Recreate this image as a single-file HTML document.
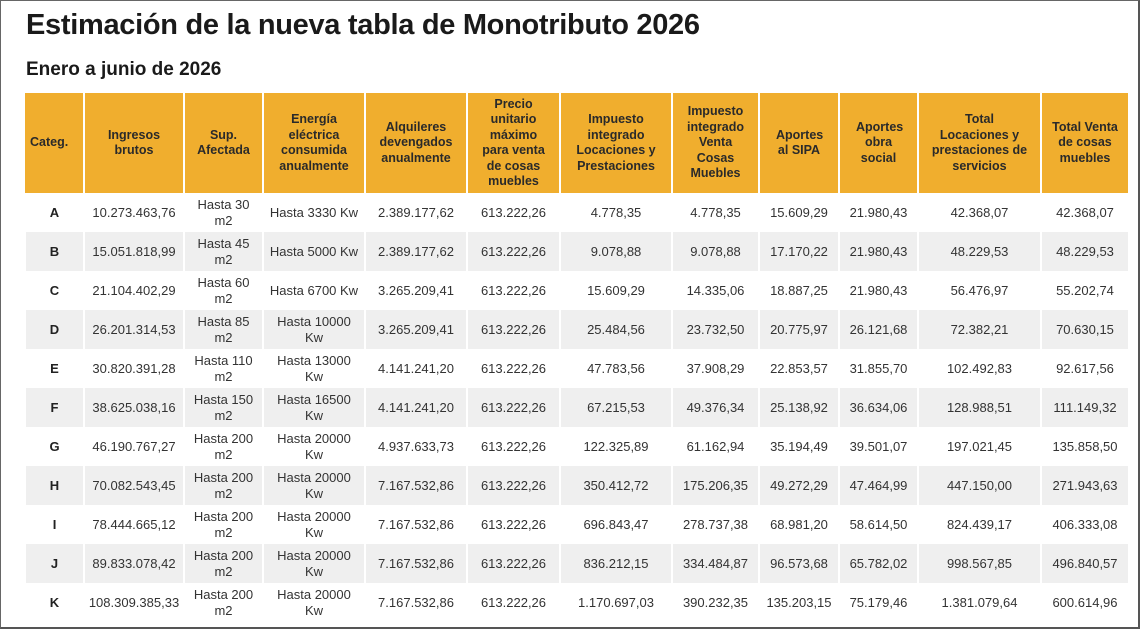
<!DOCTYPE html>
<html><head><meta charset="utf-8"><style>
html,body{margin:0;padding:0;background:#fff}
body{width:1140px;height:629px;position:relative;overflow:hidden;font-family:"Liberation Sans",sans-serif;color:#222}
.frame{position:absolute;left:0;top:0;width:1137px;height:626px;border:1px solid #666;border-right:2px solid #555;border-bottom:2px solid #555}
h1{position:absolute;left:26px;top:9px;margin:0;font-size:29px;font-weight:bold;color:#1a1a1a;letter-spacing:-0.3px}
h2{position:absolute;left:26px;top:59px;margin:0;font-size:19px;font-weight:bold;color:#1a1a1a}
table{position:absolute;left:24px;top:93px;border-collapse:collapse;table-layout:fixed;width:1104px}
th{background:#f0ae2e;color:#2a2a2a;font-size:12.5px;font-weight:bold;height:100px;padding:0 10px;border-left:2px solid #fff;border-right:2px solid #fff;line-height:15.5px;text-align:center}
td{height:39px;padding:0 3px;font-size:13px;color:#333;text-align:center;border-left:2px solid #fff;border-right:2px solid #fff;line-height:16px}
tr:nth-child(even) td{background:#efefef}
td:first-child{font-weight:bold;color:#222}
th:first-child{text-align:left;padding-left:5px;padding-right:2px;border-left:none}
th.n{padding:0 16px}
</style></head><body>
<div class="frame"></div>
<h1>Estimación de la nueva tabla de Monotributo 2026</h1>
<h2>Enero a junio de 2026</h2>
<table>
<colgroup><col style="width:59px"><col style="width:100px"><col style="width:79px"><col style="width:102px"><col style="width:102px"><col style="width:93px"><col style="width:112px"><col style="width:87px"><col style="width:80px"><col style="width:79px"><col style="width:123px"><col style="width:88px"></colgroup>
<thead><tr><th>Categ.</th><th>Ingresos brutos</th><th>Sup. Afectada</th><th>Energía eléctrica consumida anualmente</th><th>Alquileres devengados anualmente</th><th>Precio unitario máximo para venta de cosas muebles</th><th>Impuesto integrado Locaciones y Prestaciones</th><th>Impuesto integrado Venta Cosas Muebles</th><th class="n">Aportes al SIPA</th><th class="n">Aportes obra social</th><th>Total Locaciones y prestaciones de servicios</th><th>Total Venta de cosas muebles</th></tr></thead>
<tbody>
<tr><td>A</td><td>10.273.463,76</td><td>Hasta 30 m2</td><td>Hasta 3330 Kw</td><td>2.389.177,62</td><td>613.222,26</td><td>4.778,35</td><td>4.778,35</td><td>15.609,29</td><td>21.980,43</td><td>42.368,07</td><td>42.368,07</td></tr>
<tr><td>B</td><td>15.051.818,99</td><td>Hasta 45 m2</td><td>Hasta 5000 Kw</td><td>2.389.177,62</td><td>613.222,26</td><td>9.078,88</td><td>9.078,88</td><td>17.170,22</td><td>21.980,43</td><td>48.229,53</td><td>48.229,53</td></tr>
<tr><td>C</td><td>21.104.402,29</td><td>Hasta 60 m2</td><td>Hasta 6700 Kw</td><td>3.265.209,41</td><td>613.222,26</td><td>15.609,29</td><td>14.335,06</td><td>18.887,25</td><td>21.980,43</td><td>56.476,97</td><td>55.202,74</td></tr>
<tr><td>D</td><td>26.201.314,53</td><td>Hasta 85 m2</td><td>Hasta 10000 Kw</td><td>3.265.209,41</td><td>613.222,26</td><td>25.484,56</td><td>23.732,50</td><td>20.775,97</td><td>26.121,68</td><td>72.382,21</td><td>70.630,15</td></tr>
<tr><td>E</td><td>30.820.391,28</td><td>Hasta 110 m2</td><td>Hasta 13000 Kw</td><td>4.141.241,20</td><td>613.222,26</td><td>47.783,56</td><td>37.908,29</td><td>22.853,57</td><td>31.855,70</td><td>102.492,83</td><td>92.617,56</td></tr>
<tr><td>F</td><td>38.625.038,16</td><td>Hasta 150 m2</td><td>Hasta 16500 Kw</td><td>4.141.241,20</td><td>613.222,26</td><td>67.215,53</td><td>49.376,34</td><td>25.138,92</td><td>36.634,06</td><td>128.988,51</td><td>111.149,32</td></tr>
<tr><td>G</td><td>46.190.767,27</td><td>Hasta 200 m2</td><td>Hasta 20000 Kw</td><td>4.937.633,73</td><td>613.222,26</td><td>122.325,89</td><td>61.162,94</td><td>35.194,49</td><td>39.501,07</td><td>197.021,45</td><td>135.858,50</td></tr>
<tr><td>H</td><td>70.082.543,45</td><td>Hasta 200 m2</td><td>Hasta 20000 Kw</td><td>7.167.532,86</td><td>613.222,26</td><td>350.412,72</td><td>175.206,35</td><td>49.272,29</td><td>47.464,99</td><td>447.150,00</td><td>271.943,63</td></tr>
<tr><td>I</td><td>78.444.665,12</td><td>Hasta 200 m2</td><td>Hasta 20000 Kw</td><td>7.167.532,86</td><td>613.222,26</td><td>696.843,47</td><td>278.737,38</td><td>68.981,20</td><td>58.614,50</td><td>824.439,17</td><td>406.333,08</td></tr>
<tr><td>J</td><td>89.833.078,42</td><td>Hasta 200 m2</td><td>Hasta 20000 Kw</td><td>7.167.532,86</td><td>613.222,26</td><td>836.212,15</td><td>334.484,87</td><td>96.573,68</td><td>65.782,02</td><td>998.567,85</td><td>496.840,57</td></tr>
<tr><td>K</td><td>108.309.385,33</td><td>Hasta 200 m2</td><td>Hasta 20000 Kw</td><td>7.167.532,86</td><td>613.222,26</td><td>1.170.697,03</td><td>390.232,35</td><td>135.203,15</td><td>75.179,46</td><td>1.381.079,64</td><td>600.614,96</td></tr>
</tbody></table>
</body></html>
